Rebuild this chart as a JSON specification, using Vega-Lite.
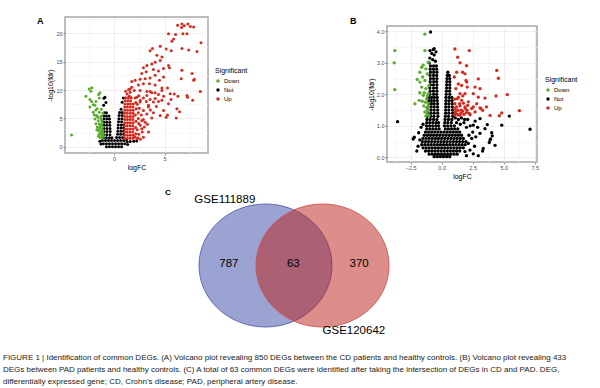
{
"$schema":"https://vega.github.io/schema/vega-lite/v6.json",
"autosize":{"type":"pad"},
"padding":{"left":3,"top":15,"right":0,"bottom":0},
"background":"white",
"config":{
 "font":"Liberation Sans",
 "view":{"stroke":null},
 "axis":{"labelFontSize":5.5,"labelColor":"#4d4d4d","tickColor":"#4d4d4d","tickSize":2,"tickWidth":0.6,"domain":false,"gridColor":"#e8e8e8","gridWidth":0.6,"titleFontSize":7,"titleFontWeight":"normal","titleColor":"#000000","labelPadding":1,"titlePadding":2},
 "legend":{"titleFontSize":7,"titleFontWeight":"normal","titleColor":"#000000","labelFontSize":6,"labelColor":"#000000","symbolSize":12,"symbolType":"circle","rowPadding":3,"titlePadding":4,"labelOffset":3,"symbolStrokeWidth":0},
 "title":{"fontSize":9,"fontWeight":"bold","anchor":"start","frame":"group","offset":0,"color":"#000000"}
},
"datasets":{
"volA":[
{"x":-0.9,"y":8.75,"g":"Not"},{"x":-1.0,"y":8.55,"g":"Not"},{"x":-0.8,"y":7.8,"g":"Not"},{"x":-1.02,"y":7.3,"g":"Not"},{"x":0.92,"y":8.6,"g":"Not"},{"x":0.8,"y":7.85,"g":"Not"},
{"x":-0.95,"y":6.0,"g":"Not"},{"x":-0.75,"y":6.0,"g":"Not"},
{"x":-1.0,"y":5.45,"g":"Not"},{"x":-0.75,"y":5.45,"g":"Not"},{"x":-0.5,"y":5.45,"g":"Not"},
{"x":-1.0,"y":4.9,"g":"Not"},{"x":-0.72,"y":4.9,"g":"Not"},{"x":-0.45,"y":4.9,"g":"Not"},
{"x":-1.0,"y":4.35,"g":"Not"},{"x":-0.72,"y":4.35,"g":"Not"},{"x":-0.42,"y":4.35,"g":"Not"},
{"x":-1.0,"y":3.8,"g":"Not"},{"x":-0.72,"y":3.8,"g":"Not"},{"x":-0.42,"y":3.8,"g":"Not"},
{"x":-1.0,"y":3.25,"g":"Not"},{"x":-0.7,"y":3.25,"g":"Not"},{"x":-0.4,"y":3.25,"g":"Not"},
{"x":-1.0,"y":2.7,"g":"Not"},{"x":-0.7,"y":2.7,"g":"Not"},{"x":-0.38,"y":2.7,"g":"Not"},
{"x":-1.02,"y":2.15,"g":"Not"},{"x":-0.72,"y":2.15,"g":"Not"},{"x":-0.4,"y":2.15,"g":"Not"},
{"x":-1.05,"y":1.6,"g":"Not"},{"x":-0.75,"y":1.6,"g":"Not"},{"x":-0.45,"y":1.6,"g":"Not"},{"x":-0.2,"y":1.6,"g":"Not"},
{"x":0.7,"y":6.6,"g":"Not"},{"x":0.55,"y":6.05,"g":"Not"},{"x":0.8,"y":6.05,"g":"Not"},
{"x":0.5,"y":5.5,"g":"Not"},{"x":0.8,"y":5.5,"g":"Not"},{"x":0.48,"y":4.95,"g":"Not"},{"x":0.78,"y":4.95,"g":"Not"},
{"x":0.45,"y":4.4,"g":"Not"},{"x":0.75,"y":4.4,"g":"Not"},
{"x":0.42,"y":3.85,"g":"Not"},{"x":0.72,"y":3.85,"g":"Not"},{"x":0.95,"y":3.85,"g":"Not"},
{"x":0.4,"y":3.3,"g":"Not"},{"x":0.7,"y":3.3,"g":"Not"},{"x":0.95,"y":3.3,"g":"Not"},
{"x":0.38,"y":2.75,"g":"Not"},{"x":0.68,"y":2.75,"g":"Not"},{"x":0.95,"y":2.75,"g":"Not"},
{"x":0.35,"y":2.2,"g":"Not"},{"x":0.65,"y":2.2,"g":"Not"},{"x":0.95,"y":2.2,"g":"Not"},
{"x":0.25,"y":1.65,"g":"Not"},{"x":0.55,"y":1.65,"g":"Not"},{"x":0.85,"y":1.65,"g":"Not"},
{"x":-1.15,"y":1.1,"g":"Not"},{"x":-0.85,"y":1.1,"g":"Not"},{"x":-0.55,"y":1.1,"g":"Not"},{"x":-0.25,"y":1.1,"g":"Not"},{"x":0.05,"y":1.1,"g":"Not"},{"x":0.35,"y":1.1,"g":"Not"},{"x":0.65,"y":1.1,"g":"Not"},{"x":0.95,"y":1.1,"g":"Not"},
{"x":-1.05,"y":0.55,"g":"Not"},{"x":-0.75,"y":0.55,"g":"Not"},{"x":-0.45,"y":0.55,"g":"Not"},{"x":-0.15,"y":0.55,"g":"Not"},{"x":0.15,"y":0.55,"g":"Not"},{"x":0.45,"y":0.55,"g":"Not"},{"x":0.75,"y":0.55,"g":"Not"},{"x":1.05,"y":0.55,"g":"Not"},
{"x":-0.75,"y":0.0,"g":"Not"},{"x":-0.45,"y":0.0,"g":"Not"},{"x":-0.15,"y":0.0,"g":"Not"},{"x":0.15,"y":0.0,"g":"Not"},{"x":0.45,"y":0.0,"g":"Not"},{"x":0.75,"y":0.0,"g":"Not"},
{"x":1.3,"y":0.9,"g":"Not"},{"x":1.6,"y":0.95,"g":"Not"},{"x":1.95,"y":1.0,"g":"Not"},{"x":2.25,"y":1.05,"g":"Not"},{"x":1.35,"y":0.4,"g":"Not"},{"x":-1.4,"y":1.0,"g":"Not"},{"x":-1.3,"y":0.5,"g":"Not"},{"x":1.25,"y":1.2,"g":"Not"},
{"x":-4.2,"y":2.1,"g":"Down"},{"x":-2.78,"y":8.9,"g":"Down"},{"x":-2.45,"y":10.2,"g":"Down"},{"x":-2.2,"y":10.4,"g":"Down"},{"x":-2.28,"y":9.8,"g":"Down"},{"x":-1.52,"y":9.2,"g":"Down"},{"x":-2.38,"y":8.35,"g":"Down"},{"x":-1.46,"y":8.6,"g":"Down"},{"x":-1.39,"y":9.5,"g":"Down"},{"x":-2.21,"y":8.0,"g":"Down"},{"x":-1.79,"y":8.0,"g":"Down"},{"x":-1.89,"y":7.3,"g":"Down"},{"x":-2.38,"y":7.0,"g":"Down"},{"x":-1.66,"y":6.7,"g":"Down"},{"x":-2.06,"y":6.1,"g":"Down"},{"x":-1.46,"y":6.1,"g":"Down"},{"x":-1.72,"y":5.5,"g":"Down"},{"x":-1.29,"y":5.4,"g":"Down"},{"x":-1.89,"y":4.9,"g":"Down"},{"x":-1.56,"y":4.6,"g":"Down"},{"x":-1.22,"y":4.6,"g":"Down"},{"x":-1.79,"y":4.05,"g":"Down"},{"x":-1.46,"y":4.05,"g":"Down"},{"x":-1.22,"y":3.9,"g":"Down"},{"x":-1.66,"y":3.5,"g":"Down"},{"x":-1.39,"y":3.3,"g":"Down"},{"x":-1.12,"y":3.5,"g":"Down"},{"x":-1.56,"y":2.9,"g":"Down"},{"x":-1.32,"y":2.7,"g":"Down"},{"x":-1.12,"y":2.5,"g":"Down"},{"x":-1.46,"y":2.3,"g":"Down"},{"x":-1.22,"y":2.0,"g":"Down"},{"x":-1.39,"y":1.65,"g":"Down"},{"x":-1.16,"y":1.55,"g":"Down"},{"x":-1.06,"y":1.9,"g":"Down"},{"x":-1.3,"y":5.0,"g":"Down"},{"x":-1.15,"y":4.2,"g":"Down"},{"x":-1.35,"y":3.7,"g":"Down"},{"x":-1.2,"y":3.1,"g":"Down"},{"x":-1.5,"y":3.3,"g":"Down"},{"x":-1.1,"y":2.9,"g":"Down"},{"x":-1.3,"y":2.3,"g":"Down"},{"x":-1.55,"y":1.9,"g":"Down"},{"x":-1.1,"y":2.2,"g":"Down"},{"x":-1.7,"y":3.0,"g":"Down"},{"x":-1.6,"y":5.2,"g":"Down"},{"x":-1.1,"y":5.9,"g":"Down"},{"x":-1.25,"y":6.6,"g":"Down"},{"x":-1.8,"y":6.5,"g":"Down"},{"x":-1.95,"y":5.6,"g":"Down"},{"x":-2.05,"y":7.4,"g":"Down"},
{"x":1.05,"y":1.5,"g":"Up"},{"x":1.32,"y":1.5,"g":"Up"},{"x":1.6,"y":1.5,"g":"Up"},{"x":1.88,"y":1.5,"g":"Up"},
{"x":1.07,"y":2.05,"g":"Up"},{"x":1.34,"y":2.05,"g":"Up"},{"x":1.62,"y":2.05,"g":"Up"},{"x":1.9,"y":2.05,"g":"Up"},
{"x":1.05,"y":2.6,"g":"Up"},{"x":1.3,"y":2.6,"g":"Up"},{"x":1.58,"y":2.6,"g":"Up"},{"x":1.86,"y":2.6,"g":"Up"},
{"x":1.06,"y":3.15,"g":"Up"},{"x":1.33,"y":3.15,"g":"Up"},{"x":1.61,"y":3.15,"g":"Up"},{"x":1.89,"y":3.15,"g":"Up"},
{"x":1.04,"y":3.7,"g":"Up"},{"x":1.31,"y":3.7,"g":"Up"},{"x":1.6,"y":3.7,"g":"Up"},{"x":1.87,"y":3.7,"g":"Up"},
{"x":1.06,"y":4.25,"g":"Up"},{"x":1.34,"y":4.25,"g":"Up"},{"x":1.62,"y":4.25,"g":"Up"},{"x":1.9,"y":4.25,"g":"Up"},
{"x":1.05,"y":4.8,"g":"Up"},{"x":1.32,"y":4.8,"g":"Up"},{"x":1.59,"y":4.8,"g":"Up"},{"x":1.86,"y":4.8,"g":"Up"},
{"x":1.07,"y":5.35,"g":"Up"},{"x":1.33,"y":5.35,"g":"Up"},{"x":1.61,"y":5.35,"g":"Up"},{"x":1.89,"y":5.35,"g":"Up"},
{"x":1.05,"y":5.9,"g":"Up"},{"x":1.31,"y":5.9,"g":"Up"},{"x":1.6,"y":5.9,"g":"Up"},{"x":1.88,"y":5.9,"g":"Up"},
{"x":1.06,"y":6.45,"g":"Up"},{"x":1.34,"y":6.45,"g":"Up"},{"x":1.62,"y":6.45,"g":"Up"},{"x":1.9,"y":6.45,"g":"Up"},
{"x":1.05,"y":7.0,"g":"Up"},{"x":1.32,"y":7.0,"g":"Up"},{"x":1.59,"y":7.0,"g":"Up"},{"x":1.87,"y":7.0,"g":"Up"},
{"x":1.08,"y":7.55,"g":"Up"},{"x":1.35,"y":7.55,"g":"Up"},{"x":1.62,"y":7.55,"g":"Up"},{"x":1.9,"y":7.55,"g":"Up"},
{"x":1.1,"y":8.1,"g":"Up"},{"x":1.37,"y":8.1,"g":"Up"},{"x":1.64,"y":8.1,"g":"Up"},
{"x":1.15,"y":8.65,"g":"Up"},{"x":1.42,"y":8.65,"g":"Up"},{"x":1.7,"y":8.65,"g":"Up"},
{"x":2.15,"y":2.3,"g":"Up"},{"x":2.15,"y":3.4,"g":"Up"},{"x":2.18,"y":4.5,"g":"Up"},{"x":2.12,"y":5.6,"g":"Up"},{"x":2.2,"y":6.7,"g":"Up"},{"x":2.15,"y":7.8,"g":"Up"},
{"x":1.3,"y":9.3,"g":"Up"},{"x":1.6,"y":9.6,"g":"Up"},{"x":1.45,"y":10.1,"g":"Up"},{"x":1.75,"y":10.5,"g":"Up"},{"x":2.0,"y":9.9,"g":"Up"},{"x":1.15,"y":9.8,"g":"Up"},
{"x":6.29,"y":21.4,"g":"Up"},{"x":6.72,"y":21.6,"g":"Up"},{"x":6.95,"y":21.3,"g":"Up"},{"x":7.31,"y":21.6,"g":"Up"},{"x":7.55,"y":21.2,"g":"Up"},{"x":7.88,"y":21.1,"g":"Up"},{"x":6.69,"y":21.0,"g":"Up"},{"x":6.82,"y":19.9,"g":"Up"},{"x":7.22,"y":19.9,"g":"Up"},{"x":6.09,"y":19.75,"g":"Up"},{"x":5.39,"y":19.9,"g":"Up"},{"x":5.89,"y":19.0,"g":"Up"},{"x":5.73,"y":18.6,"g":"Up"},{"x":8.61,"y":18.3,"g":"Up"},{"x":4.57,"y":17.7,"g":"Up"},{"x":3.8,"y":17.3,"g":"Up"},{"x":3.57,"y":16.9,"g":"Up"},{"x":5.16,"y":17.2,"g":"Up"},{"x":5.66,"y":16.9,"g":"Up"},{"x":6.72,"y":17.3,"g":"Up"},{"x":7.38,"y":17.05,"g":"Up"},{"x":8.21,"y":16.8,"g":"Up"},{"x":4.24,"y":16.1,"g":"Up"},{"x":4.74,"y":15.8,"g":"Up"},{"x":4.57,"y":15.2,"g":"Up"},{"x":4.07,"y":14.9,"g":"Up"},{"x":3.74,"y":14.6,"g":"Up"},{"x":3.25,"y":14.3,"g":"Up"},{"x":2.91,"y":13.9,"g":"Up"},{"x":5.39,"y":14.3,"g":"Up"},{"x":4.9,"y":13.8,"g":"Up"},{"x":5.49,"y":13.9,"g":"Up"},{"x":3.9,"y":13.6,"g":"Up"},{"x":4.4,"y":13.35,"g":"Up"},{"x":3.18,"y":13.2,"g":"Up"},{"x":2.75,"y":12.9,"g":"Up"},{"x":6.72,"y":13.5,"g":"Up"},{"x":7.72,"y":12.9,"g":"Up"},{"x":4.07,"y":12.6,"g":"Up"},{"x":3.57,"y":12.1,"g":"Up"},{"x":3.08,"y":12.0,"g":"Up"},{"x":2.58,"y":11.9,"g":"Up"},{"x":2.09,"y":11.7,"g":"Up"},{"x":1.76,"y":11.5,"g":"Up"},{"x":4.5,"y":11.7,"g":"Up"},{"x":4.9,"y":12.3,"g":"Up"},{"x":6.65,"y":12.0,"g":"Up"},{"x":7.94,"y":11.9,"g":"Up"},{"x":2.41,"y":10.9,"g":"Up"},{"x":2.91,"y":11.1,"g":"Up"},{"x":3.51,"y":11.1,"g":"Up"},{"x":4.07,"y":10.9,"g":"Up"},{"x":4.74,"y":10.35,"g":"Up"},{"x":5.29,"y":10.35,"g":"Up"},{"x":5.56,"y":9.35,"g":"Up"},{"x":5.96,"y":9.3,"g":"Up"},{"x":8.54,"y":9.75,"g":"Up"},{"x":1.59,"y":10.2,"g":"Up"},{"x":2.58,"y":9.9,"g":"Up"},{"x":3.25,"y":9.75,"g":"Up"},{"x":3.74,"y":9.5,"g":"Up"},{"x":4.4,"y":9.2,"g":"Up"},{"x":4.9,"y":8.9,"g":"Up"},{"x":6.32,"y":8.9,"g":"Up"},{"x":7.28,"y":8.75,"g":"Up"},{"x":4.07,"y":8.5,"g":"Up"},{"x":4.74,"y":8.2,"g":"Up"},{"x":5.63,"y":8.35,"g":"Up"},{"x":1.52,"y":8.9,"g":"Up"},{"x":2.25,"y":8.75,"g":"Up"},{"x":2.91,"y":8.6,"g":"Up"},{"x":3.57,"y":8.35,"g":"Up"},
{"x":3.25,"y":9.05,"g":"Up"},{"x":4.07,"y":9.5,"g":"Up"},{"x":4.74,"y":9.9,"g":"Up"},{"x":7.22,"y":9.05,"g":"Up"},{"x":7.78,"y":8.2,"g":"Up"},{"x":5.39,"y":7.6,"g":"Up"},{"x":3.9,"y":7.9,"g":"Up"},{"x":4.4,"y":8.0,"g":"Up"},{"x":3.41,"y":7.3,"g":"Up"},{"x":2.91,"y":6.4,"g":"Up"},{"x":3.25,"y":5.8,"g":"Up"},{"x":3.9,"y":6.0,"g":"Up"},{"x":4.57,"y":5.5,"g":"Up"},{"x":5.16,"y":5.2,"g":"Up"},{"x":5.29,"y":5.6,"g":"Up"},{"x":6.22,"y":6.7,"g":"Up"},{"x":6.48,"y":6.2,"g":"Up"},{"x":6.16,"y":5.1,"g":"Up"},{"x":3.74,"y":5.1,"g":"Up"},{"x":2.75,"y":4.6,"g":"Up"},{"x":3.41,"y":2.6,"g":"Up"},{"x":2.75,"y":3.2,"g":"Up"},{"x":3.08,"y":4.35,"g":"Up"},{"x":2.58,"y":7.9,"g":"Up"},{"x":3.57,"y":9.75,"g":"Up"},{"x":7.88,"y":11.7,"g":"Up"},{"x":2.91,"y":1.7,"g":"Up"},{"x":2.25,"y":1.4,"g":"Up"},
{"x":2.3,"y":7.5,"g":"Up"},{"x":2.5,"y":6.8,"g":"Up"},{"x":2.4,"y":6.0,"g":"Up"},{"x":2.7,"y":5.6,"g":"Up"},{"x":2.4,"y":5.0,"g":"Up"},{"x":2.9,"y":4.8,"g":"Up"},{"x":2.45,"y":4.1,"g":"Up"},{"x":2.6,"y":3.8,"g":"Up"},{"x":3.0,"y":3.5,"g":"Up"},{"x":2.3,"y":3.0,"g":"Up"},{"x":2.8,"y":2.6,"g":"Up"},{"x":2.45,"y":2.2,"g":"Up"},{"x":3.3,"y":4.0,"g":"Up"},{"x":3.6,"y":6.5,"g":"Up"},{"x":2.6,"y":8.2,"g":"Up"},{"x":3.2,"y":8.0,"g":"Up"},{"x":3.4,"y":7.0,"g":"Up"},{"x":2.45,"y":9.0,"g":"Up"},{"x":2.1,"y":8.6,"g":"Up"},{"x":2.35,"y":1.6,"g":"Up"},{"x":2.05,"y":1.8,"g":"Up"},{"x":2.6,"y":1.35,"g":"Up"},{"x":4.2,"y":7.1,"g":"Up"},{"x":4.9,"y":6.4,"g":"Up"}
],
"volB":[
{"x":-3.55,"y":1.13,"g":"Not"},{"x":-2.29,"y":0.58,"g":"Not"},{"x":-2.2,"y":0.64,"g":"Not"},{"x":-0.89,"y":3.98,"g":"Not"},{"x":7.12,"y":0.89,"g":"Not"},{"x":5.45,"y":1.31,"g":"Not"},{"x":4.84,"y":1.02,"g":"Not"},{"x":4.3,"y":0.38,"g":"Not"},{"x":4.08,"y":0.68,"g":"Not"},{"x":3.95,"y":0.58,"g":"Not"},{"x":3.84,"y":0.47,"g":"Not"},{"x":3.35,"y":0.28,"g":"Not"},{"x":2.95,"y":0.05,"g":"Not"},{"x":2.55,"y":0.11,"g":"Not"},{"x":3.68,"y":1.04,"g":"Not"},{"x":3.49,"y":0.91,"g":"Not"},{"x":3.09,"y":1.23,"g":"Not"},{"x":2.55,"y":1.02,"g":"Not"},{"x":3.09,"y":0.76,"g":"Not"},{"x":2.42,"y":0.6,"g":"Not"},{"x":2.15,"y":0.44,"g":"Not"},{"x":2.28,"y":0.23,"g":"Not"},{"x":1.88,"y":0.18,"g":"Not"},{"x":3.9,"y":0.55,"g":"Not"},{"x":4.03,"y":0.78,"g":"Not"},{"x":3.3,"y":0.2,"g":"Not"},{"x":-1.9,"y":0.35,"g":"Not"},{"x":-2.0,"y":0.2,"g":"Not"},{"x":-1.75,"y":0.55,"g":"Not"},{"x":-1.85,"y":0.78,"g":"Not"},{"x":-1.65,"y":0.95,"g":"Not"},{"x":-1.5,"y":1.05,"g":"Not"},
{"x":1.1,"y":1.25,"g":"Not"},{"x":1.35,"y":1.2,"g":"Not"},{"x":1.6,"y":1.25,"g":"Not"},{"x":1.85,"y":1.2,"g":"Not"},{"x":2.1,"y":1.2,"g":"Not"},{"x":1.2,"y":1.1,"g":"Not"},{"x":1.5,"y":1.05,"g":"Not"},{"x":1.8,"y":1.1,"g":"Not"},{"x":2.3,"y":1.0,"g":"Not"},{"x":2.7,"y":1.15,"g":"Not"},{"x":2.0,"y":0.95,"g":"Not"},{"x":2.5,"y":0.8,"g":"Not"},{"x":2.75,"y":0.65,"g":"Not"},{"x":2.2,"y":0.7,"g":"Not"},{"x":2.65,"y":0.35,"g":"Not"},{"x":2.0,"y":0.05,"g":"Not"},{"x":2.9,"y":0.95,"g":"Not"},
{"x":-0.94,"y":3.39,"g":"Not"},{"x":-0.68,"y":3.42,"g":"Not"},{"x":-0.8,"y":3.3,"g":"Not"},{"x":-0.6,"y":3.25,"g":"Not"},{"x":-0.95,"y":3.15,"g":"Not"},{"x":-0.72,"y":3.1,"g":"Not"},{"x":-0.5,"y":3.05,"g":"Not"},{"x":-1.0,"y":3.0,"g":"Not"},{"x":-0.45,"y":3.35,"g":"Not"},{"x":-0.6,"y":3.45,"g":"Not"},
{"x":-0.9,"y":2.9,"g":"Not"},{"x":-0.65,"y":2.9,"g":"Not"},{"x":-0.42,"y":2.9,"g":"Not"},
{"x":-0.92,"y":2.8,"g":"Not"},{"x":-0.66,"y":2.8,"g":"Not"},{"x":-0.4,"y":2.8,"g":"Not"},
{"x":-0.9,"y":2.7,"g":"Not"},{"x":-0.64,"y":2.7,"g":"Not"},{"x":-0.38,"y":2.7,"g":"Not"},
{"x":-0.93,"y":2.6,"g":"Not"},{"x":-0.66,"y":2.6,"g":"Not"},{"x":-0.4,"y":2.6,"g":"Not"},
{"x":-0.9,"y":2.5,"g":"Not"},{"x":-0.65,"y":2.5,"g":"Not"},{"x":-0.38,"y":2.5,"g":"Not"},
{"x":-0.92,"y":2.4,"g":"Not"},{"x":-0.64,"y":2.4,"g":"Not"},{"x":-0.4,"y":2.4,"g":"Not"},
{"x":-0.9,"y":2.3,"g":"Not"},{"x":-0.66,"y":2.3,"g":"Not"},{"x":-0.38,"y":2.3,"g":"Not"},
{"x":-0.95,"y":2.2,"g":"Not"},{"x":-0.65,"y":2.2,"g":"Not"},{"x":-0.4,"y":2.2,"g":"Not"},
{"x":-0.92,"y":2.1,"g":"Not"},{"x":-0.66,"y":2.1,"g":"Not"},{"x":-0.38,"y":2.1,"g":"Not"},
{"x":-0.95,"y":2.0,"g":"Not"},{"x":-0.65,"y":2.0,"g":"Not"},{"x":-0.4,"y":2.0,"g":"Not"},
{"x":-1.0,"y":1.9,"g":"Not"},{"x":-0.8,"y":1.9,"g":"Not"},{"x":-0.58,"y":1.9,"g":"Not"},{"x":-0.35,"y":1.9,"g":"Not"},
{"x":-1.02,"y":1.8,"g":"Not"},{"x":-0.82,"y":1.8,"g":"Not"},{"x":-0.6,"y":1.8,"g":"Not"},{"x":-0.35,"y":1.8,"g":"Not"},
{"x":-1.05,"y":1.7,"g":"Not"},{"x":-0.82,"y":1.7,"g":"Not"},{"x":-0.6,"y":1.7,"g":"Not"},{"x":-0.33,"y":1.7,"g":"Not"},
{"x":-1.08,"y":1.6,"g":"Not"},{"x":-0.85,"y":1.6,"g":"Not"},{"x":-0.6,"y":1.6,"g":"Not"},{"x":-0.33,"y":1.6,"g":"Not"},
{"x":-1.1,"y":1.5,"g":"Not"},{"x":-0.85,"y":1.5,"g":"Not"},{"x":-0.6,"y":1.5,"g":"Not"},{"x":-0.32,"y":1.5,"g":"Not"},
{"x":-1.12,"y":1.4,"g":"Not"},{"x":-0.86,"y":1.4,"g":"Not"},{"x":-0.6,"y":1.4,"g":"Not"},{"x":-0.32,"y":1.4,"g":"Not"},
{"x":-1.15,"y":1.3,"g":"Not"},{"x":-0.88,"y":1.3,"g":"Not"},{"x":-0.62,"y":1.3,"g":"Not"},{"x":-0.3,"y":1.3,"g":"Not"},
{"x":-1.18,"y":1.2,"g":"Not"},{"x":-0.92,"y":1.2,"g":"Not"},{"x":-0.65,"y":1.2,"g":"Not"},{"x":-0.38,"y":1.2,"g":"Not"},
{"x":-1.2,"y":1.1,"g":"Not"},{"x":-0.95,"y":1.1,"g":"Not"},{"x":-0.7,"y":1.1,"g":"Not"},{"x":-0.45,"y":1.1,"g":"Not"},{"x":-0.25,"y":1.1,"g":"Not"},
{"x":-1.22,"y":1.0,"g":"Not"},{"x":-0.97,"y":1.0,"g":"Not"},{"x":-0.72,"y":1.0,"g":"Not"},{"x":-0.47,"y":1.0,"g":"Not"},{"x":-0.25,"y":1.0,"g":"Not"},
{"x":0.5,"y":2.7,"g":"Not"},{"x":0.45,"y":2.6,"g":"Not"},{"x":0.62,"y":2.6,"g":"Not"},{"x":0.43,"y":2.5,"g":"Not"},{"x":0.65,"y":2.5,"g":"Not"},{"x":0.42,"y":2.4,"g":"Not"},{"x":0.66,"y":2.4,"g":"Not"},{"x":0.4,"y":2.3,"g":"Not"},{"x":0.65,"y":2.3,"g":"Not"},{"x":0.4,"y":2.2,"g":"Not"},{"x":0.66,"y":2.2,"g":"Not"},{"x":0.38,"y":2.1,"g":"Not"},{"x":0.64,"y":2.1,"g":"Not"},{"x":0.37,"y":2.0,"g":"Not"},{"x":0.66,"y":2.0,"g":"Not"},
{"x":0.35,"y":1.9,"g":"Not"},{"x":0.6,"y":1.9,"g":"Not"},{"x":0.82,"y":1.9,"g":"Not"},
{"x":0.35,"y":1.8,"g":"Not"},{"x":0.6,"y":1.8,"g":"Not"},{"x":0.84,"y":1.8,"g":"Not"},
{"x":0.33,"y":1.7,"g":"Not"},{"x":0.58,"y":1.7,"g":"Not"},{"x":0.85,"y":1.7,"g":"Not"},
{"x":0.33,"y":1.6,"g":"Not"},{"x":0.58,"y":1.6,"g":"Not"},{"x":0.86,"y":1.6,"g":"Not"},
{"x":0.32,"y":1.5,"g":"Not"},{"x":0.58,"y":1.5,"g":"Not"},{"x":0.88,"y":1.5,"g":"Not"},
{"x":0.32,"y":1.4,"g":"Not"},{"x":0.58,"y":1.4,"g":"Not"},{"x":0.88,"y":1.4,"g":"Not"},
{"x":0.3,"y":1.3,"g":"Not"},{"x":0.56,"y":1.3,"g":"Not"},{"x":0.9,"y":1.3,"g":"Not"},
{"x":0.28,"y":1.2,"g":"Not"},{"x":0.55,"y":1.2,"g":"Not"},{"x":0.82,"y":1.2,"g":"Not"},
{"x":0.25,"y":1.1,"g":"Not"},{"x":0.5,"y":1.1,"g":"Not"},{"x":0.78,"y":1.1,"g":"Not"},
{"x":0.22,"y":1.0,"g":"Not"},{"x":0.48,"y":1.0,"g":"Not"},{"x":0.75,"y":1.0,"g":"Not"},{"x":1.02,"y":1.0,"g":"Not"},
{"x":-1.2,"y":0.9,"g":"Not"},{"x":-0.95,"y":0.9,"g":"Not"},{"x":-0.7,"y":0.9,"g":"Not"},{"x":-0.45,"y":0.9,"g":"Not"},{"x":-0.2,"y":0.9,"g":"Not"},{"x":0.3,"y":0.9,"g":"Not"},{"x":0.55,"y":0.9,"g":"Not"},{"x":0.8,"y":0.9,"g":"Not"},{"x":1.05,"y":0.9,"g":"Not"},{"x":1.3,"y":0.9,"g":"Not"},
{"x":-1.3,"y":0.8,"g":"Not"},{"x":-1.05,"y":0.8,"g":"Not"},{"x":-0.8,"y":0.8,"g":"Not"},{"x":-0.55,"y":0.8,"g":"Not"},{"x":-0.3,"y":0.8,"g":"Not"},{"x":-0.05,"y":0.8,"g":"Not"},{"x":0.2,"y":0.8,"g":"Not"},{"x":0.45,"y":0.8,"g":"Not"},{"x":0.7,"y":0.8,"g":"Not"},{"x":0.95,"y":0.8,"g":"Not"},{"x":1.2,"y":0.8,"g":"Not"},{"x":1.45,"y":0.8,"g":"Not"},
{"x":-1.4,"y":0.7,"g":"Not"},{"x":-1.15,"y":0.7,"g":"Not"},{"x":-0.9,"y":0.7,"g":"Not"},{"x":-0.65,"y":0.7,"g":"Not"},{"x":-0.4,"y":0.7,"g":"Not"},{"x":-0.15,"y":0.7,"g":"Not"},{"x":0.1,"y":0.7,"g":"Not"},{"x":0.35,"y":0.7,"g":"Not"},{"x":0.6,"y":0.7,"g":"Not"},{"x":0.85,"y":0.7,"g":"Not"},{"x":1.1,"y":0.7,"g":"Not"},{"x":1.35,"y":0.7,"g":"Not"},{"x":1.6,"y":0.7,"g":"Not"},
{"x":-1.5,"y":0.6,"g":"Not"},{"x":-1.25,"y":0.6,"g":"Not"},{"x":-1.0,"y":0.6,"g":"Not"},{"x":-0.75,"y":0.6,"g":"Not"},{"x":-0.5,"y":0.6,"g":"Not"},{"x":-0.25,"y":0.6,"g":"Not"},{"x":0.0,"y":0.6,"g":"Not"},{"x":0.25,"y":0.6,"g":"Not"},{"x":0.5,"y":0.6,"g":"Not"},{"x":0.75,"y":0.6,"g":"Not"},{"x":1.0,"y":0.6,"g":"Not"},{"x":1.25,"y":0.6,"g":"Not"},{"x":1.5,"y":0.6,"g":"Not"},{"x":1.75,"y":0.6,"g":"Not"},
{"x":-1.55,"y":0.5,"g":"Not"},{"x":-1.3,"y":0.5,"g":"Not"},{"x":-1.05,"y":0.5,"g":"Not"},{"x":-0.8,"y":0.5,"g":"Not"},{"x":-0.55,"y":0.5,"g":"Not"},{"x":-0.3,"y":0.5,"g":"Not"},{"x":-0.05,"y":0.5,"g":"Not"},{"x":0.2,"y":0.5,"g":"Not"},{"x":0.45,"y":0.5,"g":"Not"},{"x":0.7,"y":0.5,"g":"Not"},{"x":0.95,"y":0.5,"g":"Not"},{"x":1.2,"y":0.5,"g":"Not"},{"x":1.45,"y":0.5,"g":"Not"},{"x":1.7,"y":0.5,"g":"Not"},{"x":1.95,"y":0.5,"g":"Not"},
{"x":-1.6,"y":0.4,"g":"Not"},{"x":-1.35,"y":0.4,"g":"Not"},{"x":-1.1,"y":0.4,"g":"Not"},{"x":-0.85,"y":0.4,"g":"Not"},{"x":-0.6,"y":0.4,"g":"Not"},{"x":-0.35,"y":0.4,"g":"Not"},{"x":-0.1,"y":0.4,"g":"Not"},{"x":0.15,"y":0.4,"g":"Not"},{"x":0.4,"y":0.4,"g":"Not"},{"x":0.65,"y":0.4,"g":"Not"},{"x":0.9,"y":0.4,"g":"Not"},{"x":1.15,"y":0.4,"g":"Not"},{"x":1.4,"y":0.4,"g":"Not"},{"x":1.65,"y":0.4,"g":"Not"},{"x":1.9,"y":0.4,"g":"Not"},
{"x":-1.5,"y":0.3,"g":"Not"},{"x":-1.25,"y":0.3,"g":"Not"},{"x":-1.0,"y":0.3,"g":"Not"},{"x":-0.75,"y":0.3,"g":"Not"},{"x":-0.5,"y":0.3,"g":"Not"},{"x":-0.25,"y":0.3,"g":"Not"},{"x":0.0,"y":0.3,"g":"Not"},{"x":0.25,"y":0.3,"g":"Not"},{"x":0.5,"y":0.3,"g":"Not"},{"x":0.75,"y":0.3,"g":"Not"},{"x":1.0,"y":0.3,"g":"Not"},{"x":1.25,"y":0.3,"g":"Not"},{"x":1.5,"y":0.3,"g":"Not"},{"x":1.75,"y":0.3,"g":"Not"},
{"x":-1.3,"y":0.2,"g":"Not"},{"x":-1.05,"y":0.2,"g":"Not"},{"x":-0.8,"y":0.2,"g":"Not"},{"x":-0.55,"y":0.2,"g":"Not"},{"x":-0.3,"y":0.2,"g":"Not"},{"x":-0.05,"y":0.2,"g":"Not"},{"x":0.2,"y":0.2,"g":"Not"},{"x":0.45,"y":0.2,"g":"Not"},{"x":0.7,"y":0.2,"g":"Not"},{"x":0.95,"y":0.2,"g":"Not"},{"x":1.2,"y":0.2,"g":"Not"},{"x":1.45,"y":0.2,"g":"Not"},
{"x":-1.0,"y":0.1,"g":"Not"},{"x":-0.75,"y":0.1,"g":"Not"},{"x":-0.5,"y":0.1,"g":"Not"},{"x":-0.25,"y":0.1,"g":"Not"},{"x":0.0,"y":0.1,"g":"Not"},{"x":0.25,"y":0.1,"g":"Not"},{"x":0.5,"y":0.1,"g":"Not"},{"x":0.75,"y":0.1,"g":"Not"},{"x":1.0,"y":0.1,"g":"Not"},{"x":1.25,"y":0.1,"g":"Not"},
{"x":-0.6,"y":0.02,"g":"Not"},{"x":-0.35,"y":0.02,"g":"Not"},{"x":-0.1,"y":0.02,"g":"Not"},{"x":0.15,"y":0.02,"g":"Not"},{"x":0.4,"y":0.02,"g":"Not"},{"x":0.65,"y":0.02,"g":"Not"},
{"x":-3.77,"y":3.39,"g":"Down"},{"x":-3.82,"y":3.0,"g":"Down"},{"x":-3.77,"y":2.15,"g":"Down"},{"x":-1.35,"y":3.91,"g":"Down"},{"x":-1.35,"y":3.39,"g":"Down"},{"x":-2.15,"y":1.7,"g":"Down"},{"x":-1.8,"y":1.81,"g":"Down"},{"x":-1.75,"y":2.7,"g":"Down"},{"x":-1.61,"y":2.86,"g":"Down"},{"x":-1.08,"y":3.02,"g":"Down"},{"x":-1.53,"y":2.55,"g":"Down"},{"x":-1.97,"y":2.47,"g":"Down"},{"x":-1.75,"y":2.39,"g":"Down"},{"x":-1.35,"y":2.44,"g":"Down"},{"x":-1.61,"y":2.23,"g":"Down"},{"x":-1.27,"y":2.18,"g":"Down"},{"x":-1.75,"y":2.05,"g":"Down"},{"x":-1.48,"y":1.97,"g":"Down"},{"x":-1.21,"y":1.86,"g":"Down"},{"x":-1.56,"y":1.78,"g":"Down"},{"x":-1.43,"y":1.63,"g":"Down"},{"x":-1.21,"y":1.57,"g":"Down"},{"x":-1.35,"y":1.44,"g":"Down"},{"x":-1.16,"y":1.39,"g":"Down"},{"x":-1.27,"y":1.31,"g":"Down"},{"x":-1.08,"y":1.49,"g":"Down"},{"x":-1.08,"y":1.7,"g":"Down"},{"x":-1.08,"y":2.02,"g":"Down"},{"x":-1.03,"y":2.28,"g":"Down"},{"x":-1.16,"y":2.65,"g":"Down"},{"x":-1.27,"y":2.81,"g":"Down"},{"x":-1.48,"y":2.93,"g":"Down"},{"x":-1.03,"y":1.33,"g":"Down"},{"x":-1.4,"y":2.05,"g":"Down"},{"x":-1.15,"y":1.95,"g":"Down"},{"x":-1.3,"y":1.75,"g":"Down"},{"x":-1.05,"y":1.6,"g":"Down"},
{"x":1.07,"y":3.44,"g":"Up"},{"x":2.23,"y":3.39,"g":"Up"},{"x":1.29,"y":3.18,"g":"Up"},{"x":2.01,"y":2.91,"g":"Up"},{"x":1.48,"y":3.0,"g":"Up"},{"x":1.21,"y":2.7,"g":"Up"},{"x":1.69,"y":2.7,"g":"Up"},{"x":1.02,"y":2.55,"g":"Up"},{"x":1.96,"y":2.44,"g":"Up"},{"x":1.34,"y":2.33,"g":"Up"},{"x":1.61,"y":2.28,"g":"Up"},{"x":2.06,"y":2.23,"g":"Up"},{"x":1.15,"y":2.18,"g":"Up"},{"x":1.48,"y":2.02,"g":"Up"},{"x":1.88,"y":2.02,"g":"Up"},{"x":1.26,"y":1.86,"g":"Up"},{"x":1.61,"y":1.81,"g":"Up"},{"x":2.15,"y":1.76,"g":"Up"},{"x":1.07,"y":1.7,"g":"Up"},{"x":1.48,"y":1.63,"g":"Up"},{"x":1.88,"y":1.6,"g":"Up"},{"x":1.02,"y":1.55,"g":"Up"},{"x":1.34,"y":1.49,"g":"Up"},{"x":1.69,"y":1.46,"g":"Up"},{"x":2.06,"y":1.49,"g":"Up"},{"x":2.42,"y":1.55,"g":"Up"},{"x":1.15,"y":1.39,"g":"Up"},{"x":1.48,"y":1.33,"g":"Up"},{"x":1.8,"y":1.36,"g":"Up"},{"x":2.23,"y":1.39,"g":"Up"},{"x":2.69,"y":1.44,"g":"Up"},{"x":3.09,"y":1.57,"g":"Up"},{"x":2.82,"y":1.7,"g":"Up"},{"x":2.95,"y":1.91,"g":"Up"},{"x":2.55,"y":2.02,"g":"Up"},{"x":2.95,"y":2.49,"g":"Up"},{"x":3.09,"y":2.18,"g":"Up"},{"x":4.44,"y":2.76,"g":"Up"},{"x":4.57,"y":2.51,"g":"Up"},{"x":5.29,"y":1.99,"g":"Up"},{"x":4.38,"y":1.95,"g":"Up"},{"x":6.26,"y":1.48,"g":"Up"},{"x":4.84,"y":1.41,"g":"Up"},{"x":4.65,"y":1.32,"g":"Up"},{"x":2.69,"y":2.23,"g":"Up"},{"x":3.49,"y":1.88,"g":"Up"},{"x":3.15,"y":1.55,"g":"Up"},{"x":3.31,"y":1.49,"g":"Up"},{"x":3.9,"y":1.33,"g":"Up"},{"x":3.61,"y":1.6,"g":"Up"},{"x":2.55,"y":1.6,"g":"Up"},{"x":1.88,"y":2.65,"g":"Up"},{"x":2.02,"y":2.39,"g":"Up"},
{"x":1.05,"y":1.35,"g":"Up"},{"x":1.3,"y":1.35,"g":"Up"},{"x":1.55,"y":1.4,"g":"Up"},{"x":2.0,"y":1.42,"g":"Up"},{"x":1.1,"y":1.45,"g":"Up"},{"x":1.6,"y":1.5,"g":"Up"},{"x":1.9,"y":1.55,"g":"Up"},{"x":1.2,"y":1.6,"g":"Up"},{"x":1.45,"y":1.7,"g":"Up"},{"x":1.75,"y":1.72,"g":"Up"},{"x":2.1,"y":1.65,"g":"Up"},{"x":1.05,"y":1.85,"g":"Up"},{"x":1.35,"y":1.9,"g":"Up"},{"x":1.7,"y":1.95,"g":"Up"},{"x":1.2,"y":1.5,"g":"Up"},{"x":2.3,"y":1.35,"g":"Up"}
],
"venn":[{"set":"GSE111889","x":-0.4286,"y":0},{"set":"GSE120642","x":0.4286,"y":0}],
"vennLabels":[{"label":"GSE111889","x":-1.04,"y":1.065},{"label":"GSE120642","x":0.9,"y":-1.065},{"label":"787","x":-0.98,"y":0.02},{"label":"63","x":-0.01,"y":0.02},{"label":"370","x":0.98,"y":0.02}],
"caption":[
{"line":1,"text":"FIGURE 1 | Identification of common DEGs. (A) Volcano plot revealing 850 DEGs between the CD patients and healthy controls. (B) Volcano plot revealing 433"},
{"line":2,"text":"DEGs between PAD patients and healthy controls. (C) A total of 63 common DEGs were identified after taking the intersection of DEGs in CD and PAD. DEG,"},
{"line":3,"text":"differentially expressed gene; CD, Crohn’s disease; PAD, peripheral artery disease."}
]
},
"bounds":"full",
"spacing":2,
"resolve":{"scale":{"color":"independent"}},
"vconcat":[
{"bounds":"flush","spacing":0,"resolve":{"scale":{"color":"independent"}},
 "hconcat":[
 {"width":62,"height":1,"data":{"values":[]},"mark":"point"},
 {"width":143,"height":136,
  "view":{"stroke":"#a6a6a6","strokeWidth":1.5},
  "title":{"text":"A","dx":-28,"dy":12.5},
  "data":{"name":"volA"},
  "mark":{"type":"point","shape":"circle","filled":true,"size":9,"opacity":1},
  "encoding":{
   "x":{"field":"x","type":"quantitative","scale":{"domain":[-4.85,9.3],"nice":false,"zero":false},
    "axis":{"title":"logFC","values":[-2.5,0,2.5,5,7.5],"labelExpr":"datum.value % 5 === 0 ? datum.label : ''","gridColor":{"condition":{"test":"datum.value % 5 !== 0","value":"#f4f4f4"},"value":"#e6e6e6"},"tickColor":{"condition":{"test":"datum.value % 5 !== 0","value":"transparent"},"value":"#4d4d4d"}}},
   "y":{"field":"y","type":"quantitative","scale":{"domain":[-1.08,22.85],"nice":false,"zero":false},
    "axis":{"title":"-log10(fdr)","values":[0,2.5,5,7.5,10,12.5,15,17.5,20,22.5],"labelExpr":"datum.value % 5 === 0 ? datum.label : ''","gridColor":{"condition":{"test":"datum.value % 5 !== 0","value":"#f4f4f4"},"value":"#e6e6e6"},"tickColor":{"condition":{"test":"datum.value % 5 !== 0","value":"transparent"},"value":"#4d4d4d"}}},
   "color":{"field":"g","type":"nominal","scale":{"domain":["Down","Not","Up"],"range":["#5bab2c","#000000","#d72a1f"]},"legend":{"orient":"none","legendX":150,"legendY":50,"title":"Significant"}}
  }
 },
 {"width":179,"height":1,"data":{"values":[]},"mark":"point"},
 {"bounds":"flush","spacing":0,"resolve":{"scale":{"color":"independent"}},
  "vconcat":[
  {"width":150,"height":9,"data":{"values":[]},"mark":"point"},
  {"width":150,"height":136,
   "view":{"stroke":"#a6a6a6","strokeWidth":1.5},
   "title":{"text":"B","dx":-37,"dy":3.5},
   "data":{"name":"volB"},
   "mark":{"type":"point","shape":"circle","filled":true,"size":11,"opacity":1},
   "encoding":{
    "x":{"field":"x","type":"quantitative","scale":{"domain":[-4.4,7.68],"nice":false,"zero":false},
     "axis":{"title":"logFC","format":".1f","values":[-3.75,-2.5,-1.25,0,1.25,2.5,3.75,5,6.25,7.5],"labelExpr":"datum.value % 2.5 === 0 ? datum.label : ''","gridColor":{"condition":{"test":"datum.value % 2.5 !== 0","value":"#f4f4f4"},"value":"#e6e6e6"},"tickColor":{"condition":{"test":"datum.value % 2.5 !== 0","value":"transparent"},"value":"#4d4d4d"}}},
    "y":{"field":"y","type":"quantitative","scale":{"domain":[-0.15,4.17],"nice":false,"zero":false},
     "axis":{"title":"-log10(fdr)","values":[0,0.5,1,1.5,2,2.5,3,3.5,4],"labelExpr":"datum.value % 1 === 0 ? datum.label : ''","gridColor":{"condition":{"test":"datum.value % 1 !== 0","value":"#f4f4f4"},"value":"#e6e6e6"},"tickColor":{"condition":{"test":"datum.value % 1 !== 0","value":"transparent"},"value":"#4d4d4d"}}},
    "color":{"field":"g","type":"nominal","scale":{"domain":["Down","Not","Up"],"range":["#5bab2c","#000000","#d72a1f"]},"legend":{"orient":"none","legendX":158,"legendY":50,"title":"Significant"}}
   }
  }
  ]
 }
 ]
},
{"width":582,"height":167,
 "title":{"text":"C","dx":162,"dy":17.5,"fontSize":8},
 "layer":[
  {"data":{"name":"venn"},
   "mark":{"type":"point","shape":"M -1 0 A 1 0.925 0 1 0 1 0 A 1 0.925 0 1 0 -1 0 Z","size":17689,"fillOpacity":0.5,"strokeWidth":1,"strokeOpacity":0.85,"opacity":1},
   "encoding":{
    "x":{"field":"x","type":"quantitative","scale":{"domain":[-4.376,4.376],"nice":false,"zero":false},"axis":null},
    "y":{"field":"y","type":"quantitative","scale":{"domain":[-1.374,1.3415],"nice":false,"zero":false},"axis":null},
    "fill":{"field":"set","type":"nominal","scale":{"domain":["GSE111889","GSE120642"],"range":["#3747a7","#bb1d15"]},"legend":null},
    "stroke":{"field":"set","type":"nominal","scale":{"domain":["GSE111889","GSE120642"],"range":["#4d5aad","#cc4f48"]},"legend":null}
   }},
  {"data":{"name":"vennLabels"},
   "mark":{"type":"text","fontSize":11.5,"color":"#000000","baseline":"middle","align":"center"},
   "encoding":{
    "x":{"field":"x","type":"quantitative"},
    "y":{"field":"y","type":"quantitative"},
    "text":{"field":"label","type":"nominal"}
   }}
 ]
},
{"width":582,"height":36,
 "data":{"name":"caption"},
 "mark":{"type":"text","align":"left","baseline":"middle","fontSize":8,"color":"#222222"},
 "encoding":{
  "y":{"field":"line","type":"ordinal","axis":null},
  "x":{"value":0},
  "text":{"field":"text","type":"nominal"}
 }
}
]
}
